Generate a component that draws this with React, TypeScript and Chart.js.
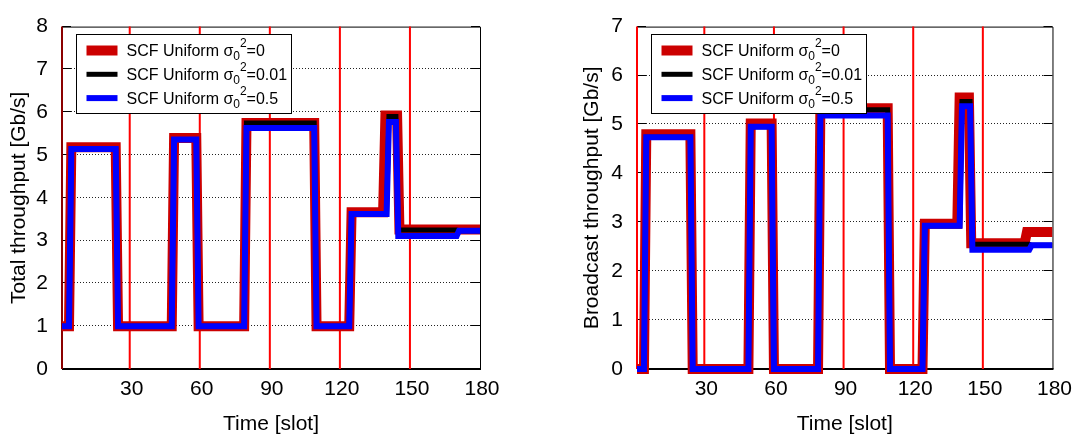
import React, { useEffect, useRef } from 'react';
import { Chart, registerables } from 'chart.js';

Chart.register(...registerables);

// ---------- Data ----------
const xTicks = [30, 60, 90, 120, 150, 180];
const markerSlots = [1, 30, 60, 90, 120, 150];
const legendBase = 'SCF Uniform σ';
const legendSub = '0';
const legendSup = '2';
const legendTails = ['=0', '=0.01', '=0.5'];

// Total throughput (left)
const totalRedSlots = [1, 4, 5, 24, 25, 48, 49, 58.5, 59.5, 79, 80, 109, 110, 124, 125, 138.5, 139.5, 144.5, 145.5, 180];
const totalRedValues = [1, 1, 5.18, 5.18, 1, 1, 5.4, 5.4, 1, 1, 5.75, 5.75, 1, 1, 3.66, 3.66, 5.92, 5.92, 3.26, 3.26];
const totalBlackSlots = [1, 4, 5, 24, 25, 48, 49, 58.5, 59.5, 79, 80, 109, 110, 124, 125, 140, 141, 144, 145, 170, 171, 180];
const totalBlackValues = [1, 1, 5.14, 5.14, 1, 1, 5.36, 5.36, 1, 1, 5.75, 5.75, 1, 1, 3.62, 3.62, 5.9, 5.9, 3.25, 3.25, 3.23, 3.23];
const totalBlueSlots = [1, 4, 5, 24, 25, 48, 49, 58.5, 59.5, 79, 80, 109, 110, 124, 125, 140, 141, 144, 145, 170, 171, 180];
const totalBlueValues = [1, 1, 5.14, 5.14, 1, 1, 5.36, 5.36, 1, 1, 5.63, 5.63, 1, 1, 3.62, 3.62, 5.77, 5.77, 3.11, 3.11, 3.23, 3.23];

// Broadcast throughput (right)
const bcRedSlots = [1, 4, 5, 24, 25, 49, 50, 59, 60, 79, 80, 109, 110, 124, 125, 139, 140, 144, 145, 168, 169, 180];
const bcRedValues = [0, 0, 4.8, 4.8, 0, 0, 5.02, 5.02, 0, 0, 5.33, 5.33, 0, 0, 2.97, 2.97, 5.55, 5.55, 2.57, 2.57, 2.8, 2.8];
const bcBlackSlots = [1, 4, 5, 24, 25, 49, 50, 59, 60, 79, 80, 109, 110, 124, 125, 140, 141, 144.5, 145.5, 170, 171, 180];
const bcBlackValues = [0, 0, 4.74, 4.74, 0, 0, 4.95, 4.95, 0, 0, 5.3, 5.3, 0, 0, 2.93, 2.93, 5.47, 5.47, 2.55, 2.55, 2.53, 2.53];
const bcBlueSlots = [1, 4, 5, 24, 25, 49, 50, 59, 60, 79, 80, 109, 110, 124, 125, 140, 141, 144.5, 145.5, 170, 171, 180];
const bcBlueValues = [0, 0, 4.74, 4.74, 0, 0, 4.95, 4.95, 0, 0, 5.18, 5.18, 0, 0, 2.93, 2.93, 5.37, 5.37, 2.44, 2.44, 2.53, 2.53];

// ---------- Styling ----------
const FONT = "'Liberation Sans', Arial, Helvetica, sans-serif";
const seriesStyles = [
  { color: '#cc0000', width: 10, order: 3 },
  { color: '#000000', width: 5, order: 2 },
  { color: '#0000ff', width: 6, order: 1 },
];

type Series = { slots: number[]; values: number[] };
type PanelCfg = {
  title: string;
  yMax: number;
  yAxisWidth: number;
  rightPad: number;
  yTitlePad: number;
  firstMarkerColor: string;
  series: Series[];
};

const totalPanel: PanelCfg = {
  title: 'Total throughput [Gb/s]',
  yMax: 8,
  yAxisWidth: 62,
  rightPad: 60,
  yTitlePad: 8.5,
  firstMarkerColor: '#8b0000',
  series: [
    { slots: totalRedSlots, values: totalRedValues },
    { slots: totalBlackSlots, values: totalBlackValues },
    { slots: totalBlueSlots, values: totalBlueValues },
  ],
};

const broadcastPanel: PanelCfg = {
  title: 'Broadcast throughput [Gb/s]',
  yMax: 7,
  yAxisWidth: 97,
  rightPad: 24,
  yTitlePad: 41.5,
  firstMarkerColor: '#ff0000',
  series: [
    { slots: bcRedSlots, values: bcRedValues },
    { slots: bcBlackSlots, values: bcBlackValues },
    { slots: bcBlueSlots, values: bcBlueValues },
  ],
};

function makePlugin(panel: PanelCfg) {
  return {
    id: 'gnuframe',
    beforeDatasetsDraw(chart: any) {
      const { ctx, chartArea: ca, scales } = chart;
      const ys = scales.y;
      ctx.save();
      // dotted grid
      ctx.strokeStyle = '#222';
      ctx.lineWidth = 1;
      ctx.setLineDash([1, 2]);
      ys.ticks.forEach((t: any) => {
        if (t.value <= 0 || t.value >= panel.yMax) return;
        const y = Math.round(ys.getPixelForValue(t.value)) - 0.5;
        ctx.beginPath();
        ctx.moveTo(ca.left, y);
        ctx.lineTo(ca.right, y);
        ctx.stroke();
      });
      ctx.setLineDash([]);
      // frame
      ctx.strokeStyle = '#000';
      ctx.lineWidth = 1;
      ctx.beginPath();
      ctx.moveTo(ca.left, ca.top + 0.5);
      ctx.lineTo(ca.right + 0.5, ca.top + 0.5);
      ctx.lineTo(ca.right + 0.5, ca.bottom);
      ctx.stroke();
      ctx.lineWidth = 2;
      ctx.beginPath();
      ctx.moveTo(ca.left, ca.bottom);
      ctx.lineTo(ca.right + 1, ca.bottom);
      ctx.stroke();
      // inward ticks
      ctx.lineWidth = 1;
      ys.ticks.forEach((t: any) => {
        const y = Math.round(ys.getPixelForValue(t.value)) - 0.5;
        ctx.beginPath();
        ctx.moveTo(ca.left, y);
        ctx.lineTo(ca.left + 9, y);
        ctx.moveTo(ca.right, y);
        ctx.lineTo(ca.right - 9, y);
        ctx.stroke();
      });
      // red slot markers
      ctx.lineWidth = 2;
      markerSlots.forEach((s, i) => {
        const x = scales.x.getPixelForValue(s);
        ctx.strokeStyle = i === 0 ? panel.firstMarkerColor : '#ff0000';
        ctx.beginPath();
        ctx.moveTo(x, ca.top);
        ctx.lineTo(x, ca.bottom);
        ctx.stroke();
      });
      ctx.restore();
    },
    afterDatasetsDraw(chart: any) {
      const { ctx, chartArea: ca } = chart;
      const bx = Math.round(ca.left + 13.5) + 0.5;
      const by = Math.round(ca.top + 7) + 0.5;
      const bw = 215;
      const bh = 79;
      ctx.save();
      ctx.fillStyle = '#fff';
      ctx.fillRect(bx, by, bw, bh);
      ctx.strokeStyle = '#000';
      ctx.lineWidth = 1;
      ctx.strokeRect(bx, by, bw, bh);
      legendTails.forEach((tail, i) => {
        const rowY = by + 16 + i * 23.8;
        const st = seriesStyles[i];
        ctx.strokeStyle = st.color;
        ctx.lineWidth = st.width;
        ctx.lineCap = 'butt';
        ctx.beginPath();
        ctx.moveTo(bx + 10, rowY);
        ctx.lineTo(bx + 41, rowY);
        ctx.stroke();
        ctx.fillStyle = '#000';
        ctx.textBaseline = 'alphabetic';
        ctx.textAlign = 'left';
        let x = bx + 50;
        const base = rowY + 5.7;
        ctx.font = `16px ${FONT}`;
        ctx.fillText(legendBase, x, base);
        x += ctx.measureText(legendBase).width;
        ctx.font = `12px ${FONT}`;
        ctx.fillText(legendSub, x, base + 4);
        x += ctx.measureText(legendSub).width;
        ctx.fillText(legendSup, x, base - 9);
        x += ctx.measureText(legendSup).width;
        ctx.font = `16px ${FONT}`;
        ctx.fillText(tail, x, base);
      });
      ctx.restore();
    },
  };
}

function buildConfig(panel: PanelCfg): any {
  const datasets = panel.series.map((s, i) => ({
    label: legendBase + legendSub + legendSup + legendTails[i],
    data: s.slots.map((x, j) => ({ x, y: s.values[j] })),
    borderColor: seriesStyles[i].color,
    backgroundColor: seriesStyles[i].color,
    borderWidth: seriesStyles[i].width,
    order: seriesStyles[i].order,
    pointRadius: 0,
    pointHoverRadius: 0,
    tension: 0,
    fill: false,
    borderJoinStyle: 'miter',
    borderCapStyle: 'butt',
    clip: { left: 0, top: 10, right: 0, bottom: 10 },
  }));
  const tickFont = { family: FONT, size: 21 };
  return {
    type: 'line',
    data: { datasets },
    options: {
      animation: false,
      responsive: false,
      events: [],
      layout: { padding: { top: 17, right: panel.rightPad, left: 0, bottom: 0 } },
      plugins: { legend: { display: false }, tooltip: { enabled: false } },
      scales: {
        x: {
          type: 'linear',
          min: 1,
          max: 180,
          afterBuildTicks: (axis: any) => {
            axis.ticks = xTicks.map((v) => ({ value: v }));
          },
          afterFit: (axis: any) => {
            axis.height = 66;
          },
          ticks: { font: tickFont, color: '#000', padding: 8, labelOffset: 2, maxRotation: 0, autoSkip: false },
          grid: { display: false, drawTicks: false },
          border: { display: false },
          title: {
            display: true,
            text: 'Time [slot]',
            color: '#000',
            font: { family: FONT, size: 21, lineHeight: 1 },
            padding: { top: 0, bottom: 0 },
          },
        },
        y: {
          type: 'linear',
          min: 0,
          max: panel.yMax,
          afterFit: (axis: any) => {
            axis.width = panel.yAxisWidth;
          },
          ticks: { stepSize: 1, font: tickFont, color: '#000', padding: 14 },
          grid: { display: false, drawTicks: false },
          border: { display: false },
          title: {
            display: true,
            text: panel.title,
            color: '#000',
            font: { family: FONT, size: 21, lineHeight: 1 },
            padding: { top: panel.yTitlePad, bottom: 0 },
          },
        },
      },
    },
    plugins: [makePlugin(panel)],
  };
}

function Panel({ panel, left, width }: { panel: PanelCfg; left: number; width: number }) {
  const ref = useRef<HTMLCanvasElement>(null);
  useEffect(() => {
    const chart = new Chart(ref.current as HTMLCanvasElement, buildConfig(panel));
    return () => chart.destroy();
  }, [panel]);
  return (
    <div style={{ position: 'absolute', left, top: 0, width, height: 435 }}>
      <canvas ref={ref} width={width} height={435} style={{ display: 'block', width, height: 435 }} />
    </div>
  );
}

export default function App() {
  return (
    <div
      style={{
        position: 'absolute',
        left: 0,
        top: 0,
        width: 1078,
        height: 435,
        background: '#fff',
        overflow: 'hidden',
      }}
    >
      <Panel panel={totalPanel} left={0} width={540} />
      <Panel panel={broadcastPanel} left={540} width={538} />
    </div>
  );
}
